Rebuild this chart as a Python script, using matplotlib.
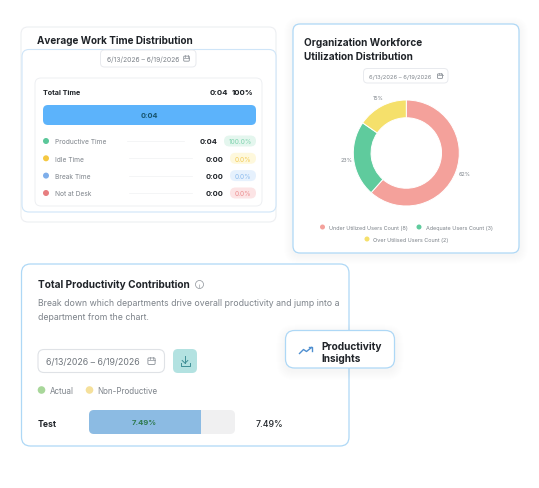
import matplotlib
matplotlib.use("Agg")
import matplotlib.pyplot as plt
from matplotlib.patches import FancyBboxPatch, Circle
from matplotlib.lines import Line2D

plt.rcParams['font.family'] = ['Inter', 'DejaVu Sans']

DATE_RANGE = "6/13/2026 – 6/19/2026"

total_label = "Total Time"
total_time = "0:04"
total_pct = "100%"
total_minutes = [4]
work_labels = ["Productive Time", "Idle Time", "Break Time", "Not at Desk"]
work_times = ["0:04", "0:00", "0:00", "0:00"]
work_pcts = ["100.0%", "0.0%", "0.0%", "0.0%"]

util_labels = ["Under Utilized Users Count (8)", "Adequate Users Count (3)", "Over Utilised Users Count (2)"]
util_counts = [8, 3, 2]
util_pct_labels = ["62%", "23%", "15%"]

dept_names = ["Test"]
dept_values = [7.49]
dept_axis_max = 9.75

W, H = 539, 489
fig = plt.figure(figsize=(W / 100, H / 100), dpi=100, facecolor="white")
bg = fig.add_axes([0, 0, 1, 1], zorder=1)
bg.set_xlim(0, W)
bg.set_ylim(H, 0)
bg.axis("off")
top = fig.add_axes([0, 0, 1, 1], zorder=5)
top.set_xlim(0, W)
top.set_ylim(H, 0)
top.axis("off")
top.patch.set_alpha(0)


def rrect(x0, y0, x1, y1, r, fc="white", ec="none", lw=1.0, z=1, alpha=None, ax=bg):
    p = FancyBboxPatch((x0 + r, y0 + r), x1 - x0 - 2 * r, y1 - y0 - 2 * r,
                       boxstyle=f"round,pad={r},rounding_size={r}",
                       fc=fc, ec=ec, lw=lw, zorder=z, alpha=alpha)
    ax.add_patch(p)
    return p


def shadow(x0, y0, x1, y1, r, dy=3, z=1, a=0.005):
    for i in range(9, 0, -1):
        rrect(x0 - i, y0 - i + dy, x1 + i, y1 + i + dy, r + i, fc="#3a4a60", alpha=a, z=z)


def txt(x, y, s, size=6.0, color="#1f2328", weight="normal", ha="left", z=6):
    top.text(x, y, s, fontsize=size, color=color, fontweight=weight, ha=ha, va="center_baseline", zorder=z)


def dot(x, y, r, c, z=6):
    bg.add_patch(Circle((x, y), r, fc=c, ec="none", zorder=z))


def calendar(x, y, s, c="#8a9097"):
    bg.add_patch(FancyBboxPatch((x - s, y - s * 0.85), 2 * s, 1.8 * s,
                                boxstyle=f"round,pad=0,rounding_size={s*0.3}",
                                fc="none", ec=c, lw=0.6, zorder=6))
    bg.add_line(Line2D([x - s, x + s], [y - s * 0.3, y - s * 0.3], color=c, lw=0.5, zorder=6))
    for dx in (-s * 0.45, s * 0.45):
        bg.add_line(Line2D([x + dx, x + dx], [y - s * 1.15, y - s * 0.65], color=c, lw=0.5, zorder=6))


def value_axes(x0, y0, x1, y1):
    ax = fig.add_axes([x0 / W, 1 - y1 / H, (x1 - x0) / W, (y1 - y0) / H], zorder=3)
    ax.axis("off")
    ax.patch.set_alpha(0)
    return ax


BLUE_EDGE = "#aed8f6"
BLUE_SOFT = "#cfe5f8"
GREY_EDGE = "#edeff2"
MUTED = "#7d838a"

# ---- Card 1: work time distribution
rrect(21, 28, 276, 223, 7, ec=GREY_EDGE, lw=0.8, z=1)
txt(37, 39.5, "Average Work Time Distribution", 7.15, weight="bold")
rrect(22, 50.5, 276, 213, 7, ec=BLUE_SOFT, lw=0.8, z=2)
rrect(100.5, 51, 196, 68, 4, ec="#e8eaee", lw=0.7, z=3)
txt(107, 59.5, DATE_RANGE, 4.9, color=MUTED)
calendar(186.5, 59.5, 2.8)
rrect(35, 79, 262, 207, 6, ec=GREY_EDGE, lw=0.7, z=2.5)

txt(43, 92.3, total_label, 5.2, weight="bold")
txt(228, 92.3, total_time, 5.6, weight="bold", ha="right")
txt(253, 92.3, total_pct, 5.6, weight="bold", ha="right")

ax_total = value_axes(43, 106, 256, 126)
ax_total.set_xlim(0, total_minutes[0])
ax_total.set_ylim(-0.5, 0.5)
bars = ax_total.barh([0], total_minutes, height=1, color="#5cb3fb")
clip = FancyBboxPatch((43 + 5, 106 + 5), 213 - 10, 20 - 10, boxstyle="round,pad=5,rounding_size=5",
                      transform=bg.transData, fc="none", ec="none")
bars[0].set_clip_path(clip)
txt(149.5, 115.7, total_time, 5.3, color="#17556f", weight="bold", ha="center")

row_y = [142, 159.3, 176.6, 194]
row_dot = ["#5bc79a", "#f5c842", "#7eaeea", "#e77e80"]
pill_bg = ["#e4f6ee", "#fef8dc", "#e6f1fd", "#fce4e5"]
pill_fg = ["#7fd3ae", "#f2cb57", "#8dbcee", "#ec8f90"]
pill_x0 = [224, 230, 230, 230]
time_x = [217.5, 224, 224, 224]
line_rng = [(127, 184), (129, 192), (129, 192), (129, 192)]
for i, y in enumerate(row_y):
    dot(46, y, 3, row_dot[i])
    txt(55, y - 0.3, work_labels[i], 4.75, color=MUTED)
    bg.add_line(Line2D(line_rng[i], [y, y], color="#f0f1f3", lw=0.5, zorder=4))
    txt(time_x[i], y - 0.3, work_times[i], 5.4, weight="bold", ha="right")
    rrect(pill_x0[i], y - 5.5, 256, y + 5.5, 5.5, fc=pill_bg[i], z=4)
    txt((pill_x0[i] + 256) / 2, y - 0.3, work_pcts[i], 4.7, color=pill_fg[i], ha="center")

# ---- Card 2: donut
shadow(293, 25, 519, 254, 7, dy=2)
rrect(293, 25, 519, 254, 7, ec=BLUE_EDGE, lw=0.9, z=2)
txt(304, 41.5, "Organization Workforce", 7.2, weight="bold")
txt(304, 55.5, "Utilization Distribution", 7.2, weight="bold")
rrect(363.5, 69.5, 448, 84, 4, ec="#e8eaee", lw=0.7, z=3)
txt(369, 77, DATE_RANGE, 4.2, color=MUTED)
calendar(440, 77, 2.5)

cx, cy, R = 406.3, 154, 53
ax_pie = fig.add_axes([(cx - R) / W, 1 - (cy + R) / H, 2 * R / W, 2 * R / H], zorder=3)
util_colors = ["#f4a19b", "#5fcb9d", "#f5e06b"]
ax_pie.pie(util_counts, colors=util_colors, startangle=90, counterclock=False, radius=1,
           wedgeprops=dict(width=0.335, edgecolor="white", linewidth=0.7))
ax_pie.set_xlim(-1, 1)
ax_pie.set_ylim(-1, 1)
txt(459, 174, util_pct_labels[0], 3.9, color=MUTED)
txt(340.5, 160, util_pct_labels[1], 3.9, color=MUTED)
txt(373, 98, util_pct_labels[2], 3.9, color=MUTED)

dot(322.5, 228, 2.5, util_colors[0])
txt(329, 228, util_labels[0], 3.95, color=MUTED)
dot(419, 228, 2.5, util_colors[1])
txt(425.5, 228, util_labels[1], 3.95, color=MUTED)
dot(367, 240, 2.5, util_colors[2])
txt(373, 240, util_labels[2], 3.95, color=MUTED)

# ---- Card 3: productivity contribution
rrect(21.5, 265, 349, 447, 9, ec=BLUE_EDGE, lw=0.9, z=1)
txt(38, 284.5, "Total Productivity Contribution", 7.25, weight="bold")
bg.add_patch(Circle((199.5, 285.5), 4, fc="none", ec="#8a9097", lw=0.5, zorder=6))
txt(199.5, 285.7, "i", 4.2, color=MUTED, ha="center")
txt(38, 302.5, "Break down which departments drive overall productivity and jump into a", 6.27, color=MUTED)
txt(38, 317, "department from the chart.", 6.27, color=MUTED)

rrect(38, 350.5, 164.5, 373.5, 6, ec="#dfe2e6", lw=0.8, z=3)
txt(46.5, 362, DATE_RANGE, 6.35, color="#6f757c")
calendar(151.5, 362, 3.6)
rrect(173, 350, 197, 374, 5, fc="#b3e2e1", z=3)
ic = "#3f8f96"
bg.add_line(Line2D([185, 185], [357, 364], color=ic, lw=0.7, zorder=6))
bg.add_line(Line2D([182.2, 185, 187.8], [361.5, 364.2, 361.5], color=ic, lw=0.7, zorder=6))
bg.add_line(Line2D([180.5, 180.5, 189.5, 189.5], [364, 366.5, 366.5, 364], color=ic, lw=0.7, zorder=6))

dot(41.5, 391, 3.8, "#a8d79a")
txt(50, 391, "Actual", 5.8, color=MUTED)
dot(89.5, 391, 3.8, "#f5e09b")
txt(97.5, 391, "Non-Productive", 5.8, color=MUTED)

txt(38, 423.5, dept_names[0], 6.2, weight="bold")
rrect(89, 411, 235, 435, 5, fc="#f0f0f1", z=2)
ax_dept = value_axes(89, 411, 235, 435)
ax_dept.set_xlim(0, dept_axis_max)
ax_dept.set_ylim(-0.5, 0.5)
dbars = ax_dept.barh([0], dept_values, height=1, color="#8cbbe3")
clip2 = FancyBboxPatch((89 + 5, 411 + 5), 146 - 10, 24 - 10, boxstyle="round,pad=5,rounding_size=5",
                       transform=bg.transData, fc="none", ec="none")
dbars[0].set_clip_path(clip2)
txt(144.5, 422.7, f"{dept_values[0]:.2f}%", 5.5, color="#2f7a4f", weight="bold", ha="center")
txt(269, 423.5, f"{dept_values[0]:.2f}%", 6.3, weight="medium", ha="center")

# floating pill
shadow(285.5, 331.5, 394.5, 369, 9, dy=3, z=7)
rrect(285.5, 331.5, 394.5, 369, 9, ec=BLUE_EDGE, lw=0.9, z=8)
bg.add_line(Line2D([299.5, 303.5, 306.5, 311.5], [354.5, 350.5, 352.5, 348.5], color="#4f8fd0", lw=1.0, zorder=9))
bg.add_line(Line2D([308.5, 312, 312], [348, 348, 351.5], color="#4f8fd0", lw=1.0, zorder=9))
txt(321, 345.5, "Productivity", 7.3, weight="bold", z=9)
txt(321, 357.5, "Insights", 7.3, weight="bold", z=9)

fig.savefig("out.png", dpi=100, facecolor="white")
